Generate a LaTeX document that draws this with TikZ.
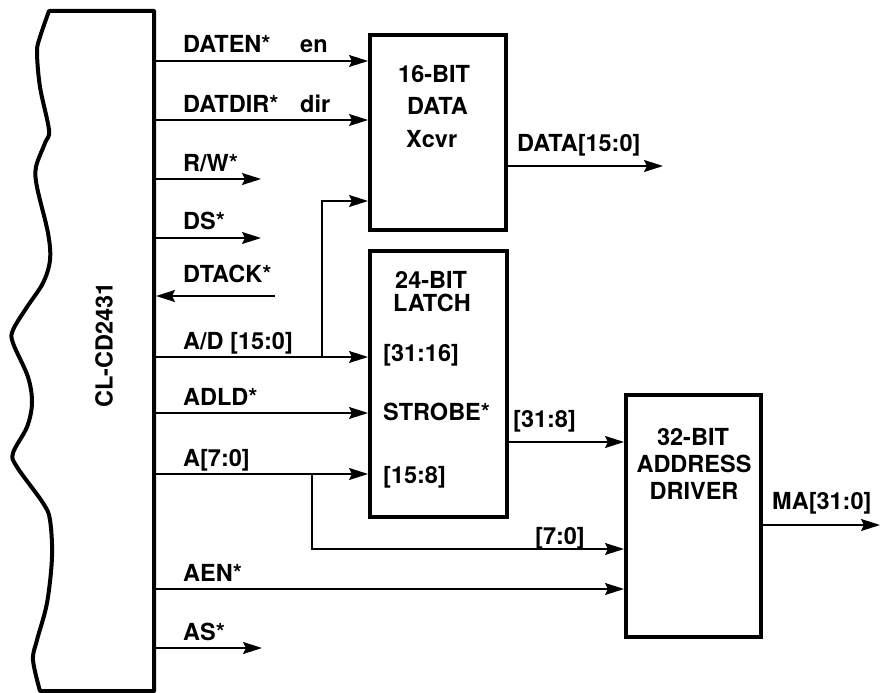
\documentclass[tikz,border=0pt]{standalone}
\usepackage{fontspec}
\setmainfont{TeX Gyre Heros}
\usetikzlibrary{arrows.meta}
\begin{document}
\begin{tikzpicture}[x=1pt,y=-1pt,
  sig/.style={line width=1.6pt},
  arr/.style={sig,-{Stealth[length=19pt,width=12pt,inset=3pt]}},
  blk/.style={draw,line width=4pt,inner sep=0pt},
  txt/.style={inner sep=0pt,font=\fontsize{23.5}{28}\selectfont\bfseries},
  lbl/.style={txt,anchor=base west},
  ]
\useasboundingbox (0,0) rectangle (881,693);

% chip outline
\draw[line width=4pt,line join=round]
  plot[smooth,tension=0.55] coordinates {(49,11) (40,37) (37,52) (40,87) (49,130) (45,143) (36,167) (37,187) (48,233) (50,260) (43,283) (27,307) (13,330) (13,343) (28,377) (32,403) (27,427) (13,453) (17,467) (43,503) (50,520) (52,557) (47,603) (37,640) (33,660) (40,691)}
  -- (154,691) -- (154,11) -- cycle;
\node[txt,rotate=90] (chipname) at (104,345) {CL-CD2431};

% blocks
\node[blk,minimum width=136pt,minimum height=195pt] (xcvr) at (438,132.5) {};
\node[blk,minimum width=137pt,minimum height=266pt] (latch) at (438.5,384) {};
\node[blk,minimum width=135pt,minimum height=242pt] (drv) at (693.5,516) {};

% chip pins
\coordinate (cDATEN) at (156,61);
\coordinate (cDATDIR) at (156,120);
\coordinate (cRW) at (156,179);
\coordinate (cDS) at (156,238);
\coordinate (cDTACK) at (156,296);
\coordinate (cAD) at (156,357);
\coordinate (cADLD) at (156,413);
\coordinate (cA) at (156,474);
\coordinate (cAEN) at (156,589);
\coordinate (cAS) at (156,648);

% free ends and junctions
\coordinate (eRW) at (261,179);
\coordinate (eDS) at (261,238);
\coordinate (eDTACK) at (275,296);
\coordinate (eAS) at (262,648);
\coordinate (jAD) at (322,357);
\coordinate (jA) at (312,474);
\coordinate (eDATA) at (663,166);
\coordinate (eMA) at (880,525);

% connectors
\draw[arr] (cDATEN) -- (cDATEN -| xcvr.west);
\draw[arr] (cDATDIR) -- (cDATDIR -| xcvr.west);
\draw[arr] (cRW) -- (eRW);
\draw[arr] (cDS) -- (eDS);
\draw[arr] (eDTACK) -- (cDTACK);
\draw[arr] (cAD) -- (cAD -| latch.west);
\draw[arr] (jAD) |- (xcvr.west |- 0,201);
\draw[arr] (cADLD) -- (cADLD -| latch.west);
\draw[arr] (cA) -- (cA -| latch.west);
\draw[arr] (jA) |- (drv.west |- 0,549);
\draw[arr] (cAEN) -- (cAEN -| drv.west);
\draw[arr] (cAS) -- (eAS);
\draw[arr] (xcvr.east |- eDATA) -- (eDATA);
\draw[arr] (latch.east |- 0,442) -- (drv.west |- 0,442);
\draw[arr] (drv.east |- eMA) -- (eMA);

% pin labels
\node[lbl] (lDATEN) at (183,53) {DATEN*};
\node[lbl] (len) at (300,53) {en};
\node[lbl] (lDATDIR) at (183,112) {DATDIR*};
\node[lbl] (ldir) at (300,112) {dir};
\node[lbl] (lRW) at (183,171) {R/W*};
\node[lbl] (lDS) at (183,229) {DS*};
\node[lbl] (lDTACK) at (183,282) {DTACK*};
\node[lbl] (lAD) at (183,349) {A/D [15:0]};
\node[lbl] (lADLD) at (183,405) {ADLD*};
\node[lbl] (lA) at (183,466) {A[7:0]};
\node[lbl] (lAEN) at (183,581) {AEN*};
\node[lbl] (lAS) at (183,640) {AS*};

% block texts
\node[lbl] (x1) at (398,83) {16-BIT};
\node[lbl] (x2) at (407,114) {DATA};
\node[lbl] (x3) at (406,147) {Xcvr};
\node[lbl] (l1) at (395,288) {24-BIT};
\node[lbl] (l2) at (393,311) {LATCH};
\node[lbl] (l3) at (383,361) {[31:16]};
\node[lbl] (l4) at (383,420) {STROBE*};
\node[lbl] (l5) at (383,483) {[15:8]};
\node[txt,anchor=base] (d1) at (693,445) {32-BIT};
\node[txt,anchor=base] (d2) at (694,472) {ADDRESS};
\node[txt,anchor=base] (d3) at (694,499) {DRIVER};

% bus labels
\node[lbl] (lDATA) at (517,151) {DATA[15:0]};
\node[lbl] (l318) at (513,427) {[31:8]};
\node[lbl] (l70) at (535,544) {[7:0]};
\node[lbl] (lMA) at (772,509) {MA[31:0]};
\end{tikzpicture}
\end{document}
